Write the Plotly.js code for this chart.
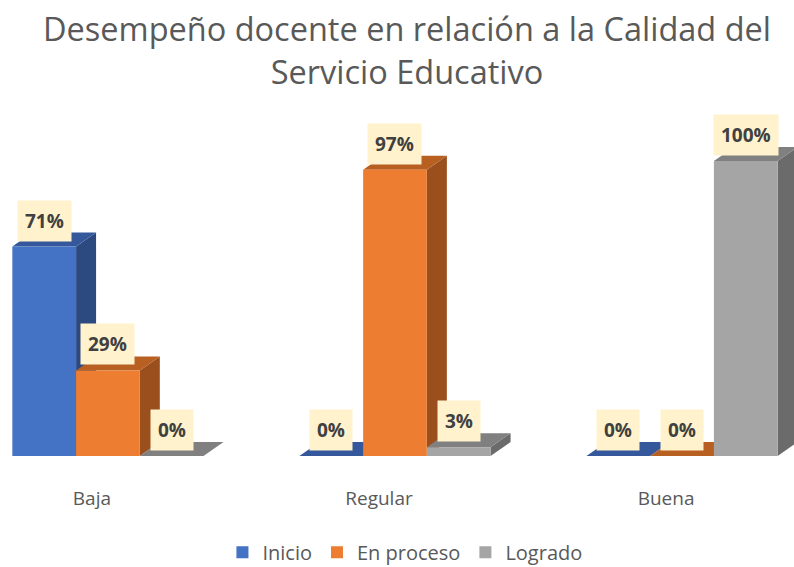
<!DOCTYPE html>
<html><head><meta charset="utf-8">
<script src="https://cdn.plot.ly/plotly-3.0.1.min.js"></script>
<style>html,body{margin:0;padding:0;background:#fff}#chart{width:794px;height:567px}</style>
</head><body><div id="chart"></div>
<script>
const categories = ['Baja', 'Regular', 'Buena'];
const seriesNames = ['Inicio', 'En proceso', 'Logrado'];
const inicio = [0.71, 0.00, 0.00];
const enProceso = [0.29, 0.97, 0.00];
const logrado = [0.00, 0.03, 1.00];
const chartTitle = 'Desempeño docente en relación a la Calidad del<br>Servicio Educativo';

const values = [inicio, enProceso, logrado];
const frontColors = ['#4472C4', '#ED7D31', '#A5A5A5'];
const topColors = ['#34589B', '#B85F22', '#808080'];
const sideColors = ['#2C4A80', '#9A4F1C', '#6B6B6B'];

const nS = values.length;
const bargap = 0.334;
const bw = (1 - bargap) / nS;
const dx = 0.0697, dy = 0.0475;   // depth offset (data units)
const xs = categories.map((c, i) => i);

const traces = values.map((v, s) => ({
  type: 'bar', name: seriesNames[s], x: xs, y: v,
  marker: {color: frontColors[s], line: {width: 0}},
  hoverinfo: 'skip'
}));

const shapes = [];
const annotations = [];
values.forEach((v, s) => {
  v.forEach((val, c) => {
    const center = c + (s - (nS - 1) / 2) * bw;
    const L = center - bw / 2, R = center + bw / 2;
    shapes.push({type: 'path', layer: 'below', xref: 'x', yref: 'y',
      path: `M${R},0 L${R + dx},${dy} L${R + dx},${val + dy} L${R},${val} Z`,
      fillcolor: sideColors[s], line: {width: 0}});
    shapes.push({type: 'path', layer: 'below', xref: 'x', yref: 'y',
      path: `M${L},${val} L${L + dx},${val + dy} L${R + dx},${val + dy} L${R},${val} Z`,
      fillcolor: topColors[s], line: {width: 0}});
    annotations.push({x: center, y: val, xref: 'x', yref: 'y', yshift: 26,
      text: '<b>' + Math.round(val * 100) + '%</b>', showarrow: false,
      font: {family: 'Open Sans, sans-serif', size: 19, color: '#404040'},
      bgcolor: '#FFF2CC', borderpad: 7, xanchor: 'center', yanchor: 'middle'});
  });
});

const layout = {
  width: 794, height: 567,
  margin: {l: 0, r: 0, t: 102, b: 111, autoexpand: false},
  paper_bgcolor: '#fff', plot_bgcolor: 'rgba(0,0,0,0)',
  barmode: 'group', bargap: bargap, bargroupgap: 0,
  title: {text: chartTitle, x: 0.5126, xanchor: 'center', y: 0.927, yanchor: 'top', yref: 'container',
    font: {family: 'Open Sans, sans-serif', size: 32.5, color: '#595959'}},
  xaxis: {type: 'linear', range: [-0.376, 2.39], tickvals: xs, ticktext: categories,
    showgrid: false, zeroline: false, showline: false,
    ticks: 'outside', ticklen: 25, tickcolor: 'rgba(0,0,0,0)', ticklabelshift: -16,
    tickfont: {family: 'Open Sans, sans-serif', size: 19, color: '#595959'}},
  yaxis: {range: [0, 1.2], visible: false, showgrid: false, zeroline: false},
  showlegend: true,
  legend: {orientation: 'h', x: 0.51, xanchor: 'center', yref: 'container', y: 0.026, yanchor: 'middle',
    font: {family: 'Open Sans, sans-serif', size: 20, color: '#595959'}, itemwidth: 30},
  shapes: shapes, annotations: annotations
};

Plotly.newPlot('chart', traces, layout, {displayModeBar: false, staticPlot: true});
</script></body></html>
